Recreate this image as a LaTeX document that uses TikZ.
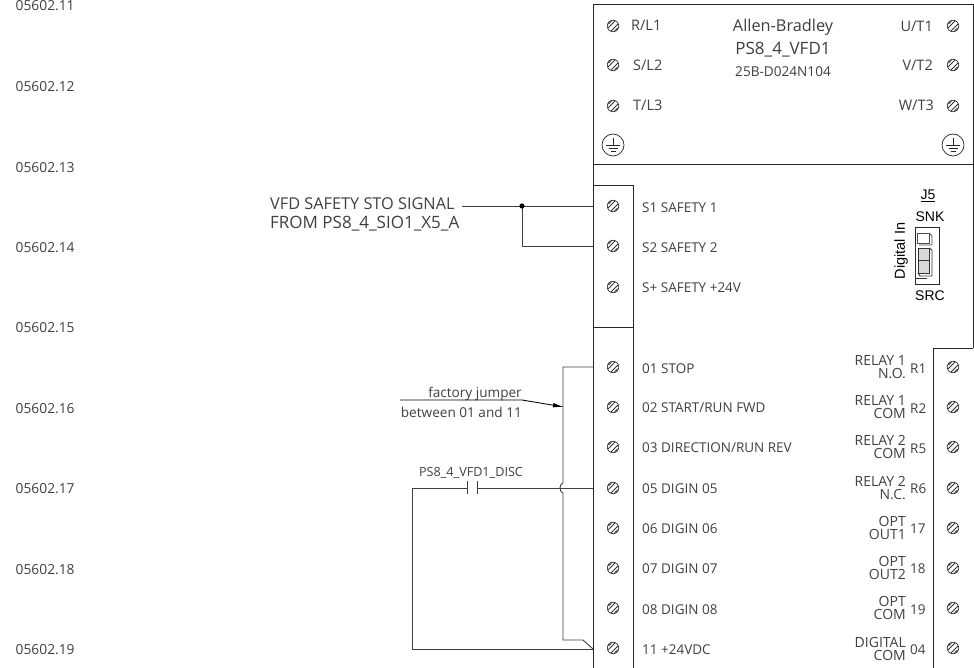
\documentclass[tikz,border=0pt]{standalone}
\usepackage{fontspec}
\setmainfont{Open Sans}
\newfontfamily\arialf{Liberation Sans}
\usetikzlibrary{arrows.meta}
\definecolor{txt}{HTML}{404040}
\tikzset{
  x=1pt,y=-1pt,
  wire/.style={draw=black!75,line width=0.9pt},
  edge/.style={draw=black!85,line width=1pt},
  lab/.style={inner sep=0pt,text=txt,font=\fontsize{13.5}{15}\selectfont},
  toplab/.style={inner sep=0pt,text=txt,font=\fontsize{14.5}{16}\selectfont},
  leftlab/.style={lab,anchor=west},
  rightlab/.style={lab,anchor=east},
  rung/.style={inner sep=0pt,anchor=west,text=txt,font=\fontsize{13.8}{15}\selectfont},
  duallab/.style={inner sep=0pt,text=txt,anchor=east,align=right,font=\fontsize{14}{13}\selectfont},
  screw/.style={circle,draw=black!80,line width=0.7pt,minimum size=11.5pt,inner sep=0pt,
    path picture={
      \draw[black!80,line width=0.8pt]
        (path picture bounding box.center) +(-4.6pt,2pt) -- +(-1.6pt,4.8pt)
        (path picture bounding box.center) +(-5pt,-2pt) -- +(2pt,5pt)
        (path picture bounding box.center) +(-2pt,-5pt) -- +(5pt,2pt)
        (path picture bounding box.center) +(1.6pt,-4.8pt) -- +(4.6pt,-2pt);
    }},
  ground/.style={circle,draw=black!85,line width=0.7pt,minimum size=22pt,inner sep=0pt,
    path picture={
      \draw[black!85,line width=0.7pt]
        (path picture bounding box.center)
        +(0pt,7pt) -- +(0pt,0pt)
        +(-7pt,0pt) -- +(7pt,0pt)
        +(-4.5pt,-3pt) -- +(4.5pt,-3pt)
        +(-2.5pt,-6pt) -- +(2.5pt,-6pt);
    }},
}
\begin{document}
\begin{tikzpicture}
\useasboundingbox (0,0) rectangle (974,668);
\fill[white] (0,0) rectangle (974,668);

% rung numbers
\node[rung] (r11) at (15.5,6) {05602.11};
\node[rung] (r12) at (15.5,86.5) {05602.12};
\node[rung] (r13) at (15.5,167.5) {05602.13};
\node[rung] (r14) at (15.5,247.5) {05602.14};
\node[rung] (r15) at (15.5,327.5) {05602.15};
\node[rung] (r16) at (15.5,408.5) {05602.16};
\node[rung] (r17) at (15.5,488.5) {05602.17};
\node[rung] (r18) at (15.5,569.5) {05602.18};
\node[rung] (r19) at (15.5,649.5) {05602.19};

% housing
\draw[edge] (593,668) -- (593,5) -- (973,5) -- (973,348);
\draw[edge] (593,165) -- (973,165);
\draw[edge] (593,186) -- (633,186) -- (633,327);
\draw[edge] (593,327) -- (633,327) -- (633,668);
\draw[edge] (933,668) -- (933,348) -- (973,348);

% screws
\foreach \n/\x/\y in {a/613/26,b/613/65,c/613/106,d/953/26,e/953/65,f/953/106,
  s1/613/206,s2/613/246,s3/613/287,
  l1/613/367,l2/613/407,l3/613/447,l4/613/488,l5/613/528,l6/613/568,l7/613/608,l8/613/648,
  q1/953/367,q2/953/407,q3/953/447,q4/953/488,q5/953/528,q6/953/568,q7/953/608,q8/953/648}
  \node[screw] (\n) at (\x,\y) {};
\node[ground] (gl) at (613,145) {};
\node[ground] (gr) at (953,145) {};

% top labels
\node[toplab,anchor=west] (tr) at (631,25) {R/L1};
\node[toplab,anchor=west] (ts) at (633,65) {S/L2};
\node[toplab,anchor=west] (tt) at (633,105) {T/L3};
\node[toplab,anchor=east] (tu) at (933,26) {U/T1};
\node[toplab,anchor=east] (tv) at (933,65) {V/T2};
\node[toplab,anchor=east] (tw) at (934,105) {W/T3};
\node[inner sep=0pt,text=txt,font=\fontsize{16.3}{18}\selectfont] (brand) at (783,27) {Allen-Bradley};
\node[inner sep=0pt,text=txt,font=\fontsize{17}{19}\selectfont] (tag) at (783,50) {PS8\_4\_VFD1};
\node[inner sep=0pt,text=txt,font=\fontsize{13.6}{15}\selectfont] (model) at (783,72) {25B-D024N104};

% left terminal labels
\node[leftlab] (t1) at (642,207.5) {S1 SAFETY 1};
\node[leftlab] (t2) at (642,247.5) {S2 SAFETY 2};
\node[leftlab] (t3) at (642,287.5) {S+ SAFETY +24V};
\node[leftlab] (t4) at (642,368.5) {01 STOP};
\node[leftlab] (t5) at (642,407.5) {02 START/RUN FWD};
\node[leftlab] (t6) at (642,447.5) {03 DIRECTION/RUN REV};
\node[leftlab] (t7) at (642,488.5) {05 DIGIN 05};
\node[leftlab] (t8) at (642,528.5) {06 DIGIN 06};
\node[leftlab] (t9) at (642,568.5) {07 DIGIN 07};
\node[leftlab] (t10) at (642,609.5) {08 DIGIN 08};
\node[leftlab] (t11) at (642,649.5) {11 +24VDC};

% right terminal labels
\node[duallab] (d1) at (906,367) {RELAY 1\\N.O.};
\node[duallab] (d2) at (906,407) {RELAY 1\\COM};
\node[duallab] (d3) at (906,447) {RELAY 2\\COM};
\node[duallab] (d4) at (906,488) {RELAY 2\\N.C.};
\node[duallab] (d5) at (906,528) {OPT\\OUT1};
\node[duallab] (d6) at (906,568) {OPT\\OUT2};
\node[duallab] (d7) at (906,608) {OPT\\COM};
\node[duallab] (d8) at (906,649) {DIGITAL\\COM};
\node[leftlab] (n1) at (910,368.5) {R1};
\node[leftlab] (n2) at (910,408.5) {R2};
\node[leftlab] (n3) at (910,448.5) {R5};
\node[leftlab] (n4) at (910,488.5) {R6};
\node[leftlab] (n5) at (910,528.5) {17};
\node[leftlab] (n6) at (910,568.5) {18};
\node[leftlab] (n7) at (910,609.5) {19};
\node[leftlab] (n8) at (910,649.5) {04};

% J5 switch
\node[inner sep=0pt,font=\arialf\fontsize{14}{16}\selectfont] (j5) at (928,196) {\underline{J5}};
\node[inner sep=0pt,font=\arialf\fontsize{14}{16}\selectfont] (snk) at (930,217) {SNK};
\node[inner sep=0pt,font=\arialf\fontsize{14}{16}\selectfont] (src) at (930,296) {SRC};
\node[inner sep=0pt,rotate=90,font=\arialf\fontsize{14.5}{16}\selectfont] (din) at (901,251) {Digital In};
\node[draw=black!85,line width=0.8pt,minimum width=24pt,minimum height=57pt,inner sep=0pt] (sw) at (927,255.5) {};
\draw[black!70,line width=0.7pt] (917,233) rectangle (929,243);
\draw[black!70,line width=0.7pt] (929,233) -- (932,236) -- (932,245) -- (919,245);
\draw[black!80,fill=black!15,line width=0.9pt] (918,248) rectangle (929,260);
\draw[black!80,fill=black!15,line width=0.9pt] (918,260) rectangle (929,273);
\draw[black!80,line width=0.9pt] (929,248) -- (932,250) -- (932,276) -- (920,276) -- (918,273);
\draw[black!80,line width=0.9pt] (915.5,245) -- (915.5,278) -- (927,278);

% STO signal
\node[inner sep=0pt,anchor=west,text=txt,font=\fontsize{16.3}{18}\selectfont] (sto1) at (270,204) {VFD SAFETY STO SIGNAL};
\node[inner sep=0pt,anchor=west,text=txt,font=\fontsize{17}{19}\selectfont] (sto2) at (270,224) {FROM PS8\_4\_SIO1\_X5\_A};
\coordinate (stofree) at (462,206);
\coordinate (j1) at (522,206);
\coordinate (s1e) at (593,206);
\coordinate (s2e) at (593,246);
\draw[wire] (stofree) -- (s1e);
\draw[wire] (j1) -- (522,246) -- (s2e);
\fill[black] (j1) circle (2.6pt);

% factory jumper
\coordinate (l1e) at (593,367);
\coordinate (l8e) at (593,649);
\draw[wire] (l1e) -- (563,367) -- (563,483)
  .. controls (559,484) and (559,492) .. (563,493) -- (563,640) -- (583,640) -- (l8e);
\node[inner sep=0pt,anchor=east,text=txt,font=\fontsize{13.6}{15}\selectfont] (fj) at (522,394) {factory jumper};
\node[inner sep=0pt,anchor=east,text=txt,font=\fontsize{13.6}{15}\selectfont] (fj2) at (522,412) {between 01 and 11};
\coordinate (fjs) at (400,400);
\coordinate (fjm) at (522,400);
\coordinate (fje) at (564,407);
\draw[black,line width=0.9pt,-{Latex[length=11pt,width=4.5pt]}] (fjs) -- (fjm) -- (fje);

% disconnect contact
\node[inner sep=0pt,text=txt,font=\fontsize{12.6}{14}\selectfont] (disc) at (471,473) {PS8\_4\_VFD1\_DISC};
\coordinate (cl) at (467,488);
\coordinate (cr) at (477,488);
\coordinate (l4e) at (593,488);
\draw[wire] (cr) -- (l4e);
\draw[wire] (cl) -- (412,488) -- (412,649) -- (l8e);
\draw[wire] (467,481) -- (467,494);
\draw[wire] (477,481) -- (477,494);
\end{tikzpicture}
\end{document}
